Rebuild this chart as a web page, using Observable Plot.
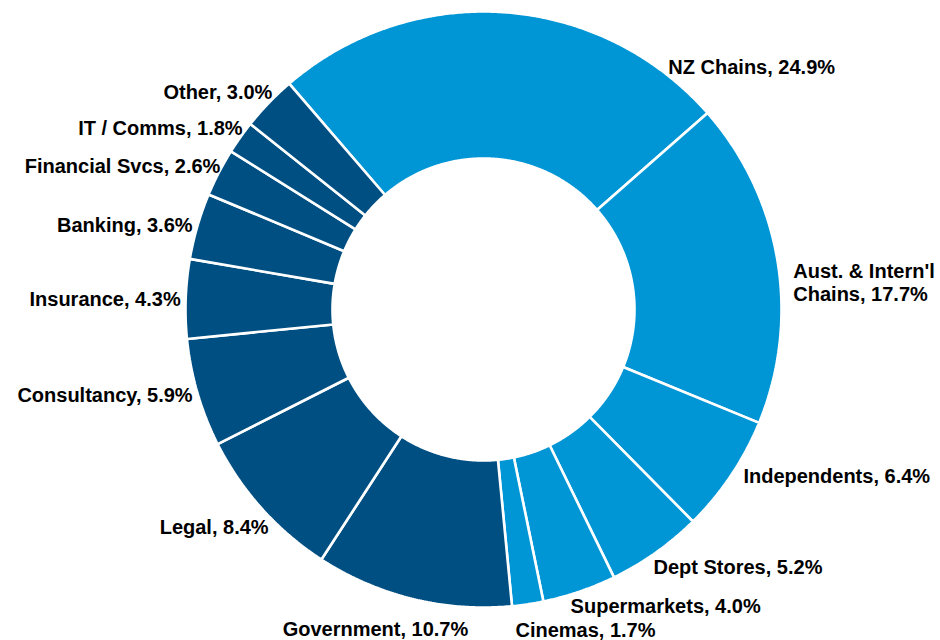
<!DOCTYPE html>
<html>
<head>
<meta charset="utf-8">
<script src="https://cdn.jsdelivr.net/npm/d3@7"></script>
<script src="https://cdn.jsdelivr.net/npm/@observablehq/plot@0.6"></script>
<style>
  html, body { margin: 0; padding: 0; background: #fff; }
  #chart { width: 940px; height: 640px; }
</style>
</head>
<body>
<div id="chart"></div>
<script>
// ---- data ----
const categories = ["NZ Chains", "Aust. & Intern'l Chains", "Independents", "Dept Stores", "Supermarkets", "Cinemas",
  "Government", "Legal", "Consultancy", "Insurance", "Banking", "Financial Svcs", "IT / Comms", "Other"];
const shares = [24.9, 17.7, 6.4, 5.2, 4.0, 1.7, 10.7, 8.4, 5.9, 4.3, 3.6, 2.6, 1.8, 3.0];
const sectors = ["Retail", "Retail", "Retail", "Retail", "Retail", "Retail",
  "Business", "Business", "Business", "Business", "Business", "Business", "Business", "Business"];
const sectorOrder = ["Retail", "Business"];

// ---- layout ----
const W = 940, H = 640;
const CX = 483, CY = 309;       // donut centre in px
const R_OUT = 298, R_IN = 151;  // radii in px
const START = -40.7 * Math.PI / 180;
const LABEL_R = 303;
const deg = Math.PI / 180;

// manually placed labels (as dragged in the original): polar angle in degrees, radius in px
const labelOverride = {
  "NZ Chains": {angle: 37.3, r: 305},
  "Aust. & Intern'l Chains": {angle: 85, r: 311, text: "Aust. & Intern'l\nChains, 17.7%"},
  "Independents": {angle: 122.6, r: 308.5},
  "Dept Stores": {angle: 146.5, r: 308},
  "Supermarkets": {angle: 163.6, r: 308.5},
  "Cinemas": {angle: 174.3, r: 321.6},
  "Government": {angle: 198.7, r: 337, anchor: "middle"},
  "Legal": {angle: 224.7, r: 305.5},
  "Financial Svcs": {angle: 298.7, r: 300},
  "IT / Comms": {angle: 307.1, r: 302},
  "Other": {angle: 315.9, r: 303.4}
};

const data = categories.map((name, i) => ({name, value: shares[i], sector: sectors[i]}));
const arcs = d3.pie().sort(null).value(d => d.value).startAngle(START).endAngle(START + 2 * Math.PI)(data);

// polygon outline for each ring segment
const pts = [];
for (const a of arcs) {
  const n = Math.max(2, Math.ceil((a.endAngle - a.startAngle) / (0.4 * deg)));
  for (let k = 0; k <= n; k++) {
    const t = a.startAngle + (a.endAngle - a.startAngle) * k / n;
    pts.push({name: a.data.name, sector: a.data.sector, x: R_OUT * Math.sin(t), y: -R_OUT * Math.cos(t)});
  }
  for (let k = n; k >= 0; k--) {
    const t = a.startAngle + (a.endAngle - a.startAngle) * k / n;
    pts.push({name: a.data.name, sector: a.data.sector, x: R_IN * Math.sin(t), y: -R_IN * Math.cos(t)});
  }
}

const labels = arcs.map(a => {
  const o = labelOverride[a.data.name] || {};
  const ang = o.angle !== undefined ? o.angle * deg : (a.startAngle + a.endAngle) / 2;
  const r = o.r || LABEL_R;
  const s = Math.sin(ang);
  const anchor = o.anchor || (s > 0.05 ? "start" : s < -0.05 ? "end" : "middle");
  return {
    x: r * s, y: -r * Math.cos(ang), anchor,
    text: o.text || `${a.data.name}, ${a.data.value.toFixed(1)}%`
  };
});

const textOpts = {
  x: "x", y: "y", text: "text", fill: "#000",
  fontSize: 20, fontWeight: "bold", lineHeight: 1.15,
  fontFamily: "'Liberation Sans', Arial, Helvetica, sans-serif"
};

const chart = Plot.plot({
  width: W, height: H,
  margin: 0,
  x: {domain: [-CX, W - CX], range: [0, W], axis: null},
  y: {domain: [-CY, H - CY], range: [0, H], axis: null},
  color: {domain: sectorOrder, range: ["#0096D6", "#004F83"]},
  style: {background: "#fff", overflow: "visible"},
  marks: [
    Plot.line(pts, {x: "x", y: "y", z: "name", fill: "sector", stroke: "#fff", strokeWidth: 2.6, curve: "linear-closed", strokeLinejoin: "miter"}),
    Plot.text(labels.filter(d => d.anchor === "start"), {...textOpts, textAnchor: "start"}),
    Plot.text(labels.filter(d => d.anchor === "end"), {...textOpts, textAnchor: "end"}),
    Plot.text(labels.filter(d => d.anchor === "middle"), {...textOpts, textAnchor: "middle"})
  ]
});
document.getElementById("chart").appendChild(chart);
</script>
</body>
</html>
